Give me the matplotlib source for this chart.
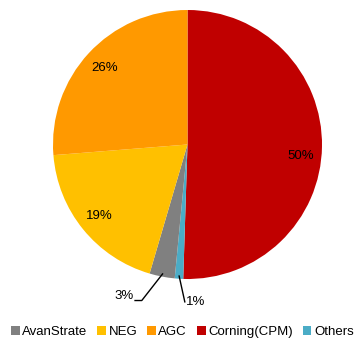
import numpy as np
import matplotlib
matplotlib.use("Agg")
import matplotlib.pyplot as plt
from matplotlib.patches import Patch

plt.rcParams['font.family'] = ['Liberation Sans', 'DejaVu Sans']

# data in clockwise order from 12 o'clock
categories = ["Corning(CPM)", "Others", "AvanStrate", "NEG", "AGC"]
shares = [50, 1, 3, 19, 26]
colors = {"Corning(CPM)": "#C00000", "Others": "#4BACC6", "AvanStrate": "#808080",
          "NEG": "#FFC000", "AGC": "#FF9900"}
legend_order = ["AvanStrate", "NEG", "AGC", "Corning(CPM)", "Others"]

W, H = 364, 343
fig = plt.figure(figsize=(W / 100, H / 100), dpi=100)
ax = fig.add_axes([53 / W, (H - 279) / H, 269 / W, 269 / H])

wedges, _ = ax.pie(shares, colors=[colors[c] for c in categories], startangle=90,
                   counterclock=False, radius=1.0,
                   wedgeprops=dict(edgecolor="none", linewidth=0))
ax.set_xlim(-1, 1)
ax.set_ylim(-1, 1)
ax.set_aspect("equal")
ax.axis("off")

fs = 9.5
for w, c, s in zip(wedges, categories, shares):
    mid = np.deg2rad((w.theta1 + w.theta2) / 2)
    lab = f"{s}%"
    if s >= 10:
        r = 0.84
        dy = -0.07 if c == "Corning(CPM)" else 0.0
        ax.text(r * np.cos(mid), r * np.sin(mid) + dy, lab, ha="center", va="center", fontsize=fs)
    elif c == "AvanStrate":
        x0, y0 = 0.98 * np.cos(mid), 0.98 * np.sin(mid)
        x1, y1 = -0.34, -1.16
        x2 = x1 - 0.05
        ax.plot([x0, x1, x2], [y0, y1, y1], color="black", lw=1, clip_on=False)
        ax.text(x2 - 0.01, y1 + 0.03, lab, ha="right", va="center", fontsize=fs)
    else:
        x0, y0 = 0.98 * np.cos(mid), 0.98 * np.sin(mid)
        x1, y1 = -0.02, -1.17
        ax.plot([x0, x1], [y0, y1], color="black", lw=1, clip_on=False)
        ax.text(x1 + 0.01, y1 + 0.0, lab, ha="left", va="center", fontsize=fs)

handles = [Patch(facecolor=colors[c], edgecolor="none") for c in legend_order]
fig.legend(handles, legend_order, loc="center left", bbox_to_anchor=(11 / W, 1 - 332 / H),
           ncol=5, frameon=False, fontsize=9.5, handlelength=0.65, handleheight=0.65,
           handletextpad=0.2, columnspacing=0.75, borderpad=0, borderaxespad=0)

fig.savefig("out.png", dpi=100)
